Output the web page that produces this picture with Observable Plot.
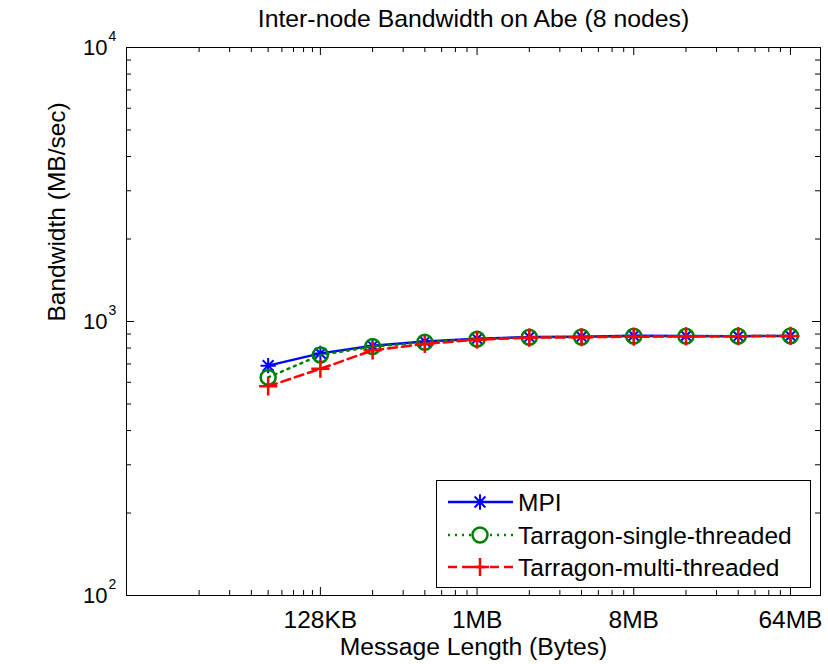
<!DOCTYPE html>
<html><head><meta charset="utf-8">
<script src="https://cdn.jsdelivr.net/npm/d3@7"></script>
<script src="https://cdn.jsdelivr.net/npm/@observablehq/plot@0.6"></script>
<style>
html,body{margin:0;padding:0;background:#fff;}
#chart{position:relative;width:828px;height:664px;}
#chart svg{font-family:Arial,"Liberation Sans",Helvetica,sans-serif;}
#legend{position:absolute;left:0;top:0;}
</style></head><body><div id="chart"></div>
<script>
const title = "Inter-node Bandwidth on Abe (8 nodes)";
const xLabel = "Message Length (Bytes)";
const yLabel = "Bandwidth (MB/sec)";
const messageBytes = [65536, 131072, 262144, 524288, 1048576, 2097152, 4194304, 8388608, 16777216, 33554432, 67108864];
const mpi    = [690, 765, 815, 845, 865, 878, 880, 888, 886, 884, 886];
const single = [625, 755, 810, 840, 862, 876, 878, 884, 884, 884, 886];
const multi  = [580, 672, 785, 828, 858, 873, 876, 880, 882, 884, 886];
const seriesNames = ["MPI", "Tarragon-single-threaded", "Tarragon-multi-threaded"];
const xTickValues = [131072, 1048576, 8388608, 67108864];
const xTickLabels = ["128KB", "1MB", "8MB", "64MB"];
const yTickValues = [100, 1000, 10000];
const yTickExponents = ["2", "3", "4"];

const W = 828, H = 664, mT = 47, mR = 8, mB = 69, mL = 126;
const plotH = H - mT - mB, plotW = W - mL - mR;

const rows = messageBytes.map((b, i) => ({b, mpi: mpi[i], single: single[i], multi: multi[i]}));

// minor ticks in MATLAB style
const xMinor = [];
for (let j = 2; j <= 9; j++) xMinor.push(xTickValues[0] * j / 10);
for (let k = 0; k < xTickValues.length - 1; k++) for (let j = 2; j <= 7; j++) xMinor.push(xTickValues[k] * j);
const yMinor = [];
for (let k = 0; k < yTickValues.length - 1; k++) for (let j = 2; j <= 9; j++) yMinor.push(yTickValues[k] * j);

const BLUE = "#0000ff", GREEN = "#008000", RED = "#ff0000";
const majorLen = 8, minorLen = 5;
const LW = 2.5;
const starR = 5.0, plusR = 5.9, circR = 7.5;

const chart = Plot.plot({
  width: W, height: H,
  marginTop: mT, marginRight: mR, marginBottom: mB, marginLeft: mL,
  style: {fontFamily: "Arial, 'Liberation Sans', Helvetica, sans-serif", background: "#fff", color: "#000"},
  x: {type: "log", domain: [1e4, 1e8], axis: null},
  y: {type: "log", domain: [100, 10000], axis: null},
  marks: [
    Plot.line(rows, {x: "b", y: "mpi", stroke: BLUE, strokeWidth: LW}),
    Plot.dot(rows, {x: "b", y: "mpi", symbol: "plus", r: starR, stroke: BLUE, strokeWidth: 2}),
    Plot.dot(rows, {x: "b", y: "mpi", symbol: "times", r: starR, stroke: BLUE, strokeWidth: 2}),
    Plot.line(rows, {x: "b", y: "single", stroke: GREEN, strokeWidth: LW, strokeDasharray: "2,5"}),
    Plot.dot(rows, {x: "b", y: "single", symbol: "circle", r: circR, stroke: GREEN, strokeWidth: 2.5, fill: "none"}),
    Plot.line(rows, {x: "b", y: "multi", stroke: RED, strokeWidth: LW, strokeDasharray: "9,5"}),
    Plot.dot(rows, {x: "b", y: "multi", symbol: "plus", r: plusR, stroke: RED, strokeWidth: 2.5}),
    Plot.frame({stroke: "#000", strokeWidth: 1}),
    Plot.tickX(xTickValues, {x: d => d, insetTop: plotH - majorLen, stroke: "#000"}),
    Plot.tickX(xMinor, {x: d => d, insetTop: plotH - minorLen, stroke: "#000"}),
    Plot.tickX(xTickValues, {x: d => d, insetBottom: plotH - majorLen, stroke: "#000"}),
    Plot.tickX(xMinor, {x: d => d, insetBottom: plotH - minorLen, stroke: "#000"}),
    Plot.tickY(yTickValues, {y: d => d, insetRight: plotW - majorLen, stroke: "#000"}),
    Plot.tickY(yMinor, {y: d => d, insetRight: plotW - minorLen, stroke: "#000"}),
    Plot.tickY(yTickValues, {y: d => d, insetLeft: plotW - majorLen, stroke: "#000"}),
    Plot.tickY(yMinor, {y: d => d, insetLeft: plotW - minorLen, stroke: "#000"}),
    Plot.text(xTickValues, {x: d => d, frameAnchor: "bottom", text: (d, i) => xTickLabels[i], dy: 25, lineAnchor: "middle", fontSize: 24.5, fill: "#000"}),
    Plot.text(yTickValues, {y: d => d, frameAnchor: "left", text: () => "10", textAnchor: "end", dx: -19, lineAnchor: "middle", fontSize: 22, fill: "#000"}),
    Plot.text(yTickValues, {y: d => d, frameAnchor: "left", text: (d, i) => yTickExponents[i], textAnchor: "start", dx: -18, dy: -11, lineAnchor: "middle", fontSize: 14, fill: "#000"}),
    Plot.text([xLabel], {frameAnchor: "bottom", dy: 52, lineAnchor: "middle", fontSize: 24.7, fill: "#000"}),
    Plot.text([yLabel], {frameAnchor: "left", dx: -69, rotate: -90, lineAnchor: "middle", fontSize: 24.5, fill: "#000"}),
    Plot.text([title], {frameAnchor: "top", dy: -28, lineAnchor: "middle", fontSize: 24.8, fill: "#000"})
  ]
});
document.getElementById("chart").appendChild(chart);

// legend overlay
const lg = d3.select("#chart").append("svg").attr("id", "legend")
  .attr("width", W).attr("height", H)
  .style("font-family", "Arial, 'Liberation Sans', Helvetica, sans-serif");
const box = {x: 436, y: 480, w: 374, h: 107};
lg.append("rect").attr("x", box.x + 0.5).attr("y", box.y + 0.5).attr("width", box.w).attr("height", box.h)
  .attr("fill", "#fff").attr("stroke", "#000").attr("stroke-width", 1);
const entries = [
  {name: seriesNames[0], color: BLUE, dash: null, marker: "star"},
  {name: seriesNames[1], color: GREEN, dash: "2,5", marker: "circle"},
  {name: seriesNames[2], color: RED, dash: "9,5", marker: "plus"}
];
const rowY = [502, 535, 567];
entries.forEach((e, i) => {
  const y = rowY[i], x0 = 448, x1 = 513, xm = 480;
  const ln = lg.append("line").attr("x1", x0).attr("x2", x1).attr("y1", y).attr("y2", y)
    .attr("stroke", e.color).attr("stroke-width", LW);
  if (e.dash) ln.attr("stroke-dasharray", e.dash);
  if (e.marker === "star") {
    const s = d3.symbol(d3.symbolPlus, Math.PI * starR * starR)();
    const t = d3.symbol(d3.symbolTimes, Math.PI * starR * starR)();
    lg.append("path").attr("d", s).attr("transform", `translate(${xm},${y})`).attr("stroke", e.color).attr("stroke-width", 2).attr("fill", "none");
    lg.append("path").attr("d", t).attr("transform", `translate(${xm},${y})`).attr("stroke", e.color).attr("stroke-width", 2).attr("fill", "none");
  } else if (e.marker === "circle") {
    lg.append("circle").attr("cx", xm).attr("cy", y).attr("r", circR).attr("stroke", e.color).attr("stroke-width", 2.5).attr("fill", "#fff");
  } else {
    const s = d3.symbol(d3.symbolPlus, Math.PI * plusR * plusR)();
    lg.append("path").attr("d", s).attr("transform", `translate(${xm},${y})`).attr("stroke", e.color).attr("stroke-width", 2.5).attr("fill", "none");
  }
  lg.append("text").attr("x", 518).attr("y", y).attr("dy", "0.35em").attr("font-size", 24.5).attr("fill", "#000").text(e.name);
});
</script></body></html>
